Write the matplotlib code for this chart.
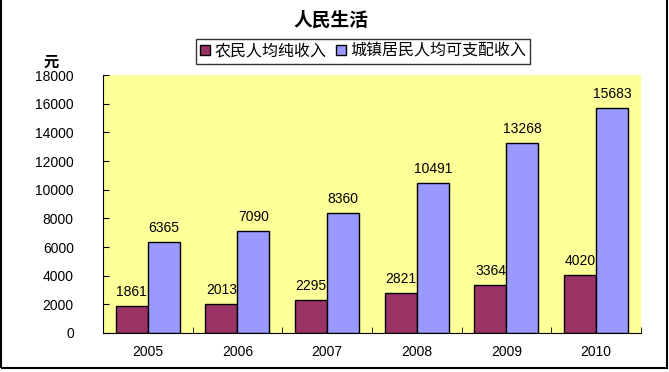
import numpy as np
import matplotlib.pyplot as plt
from matplotlib.patches import Rectangle

plt.rcParams['font.family'] = ['Noto Sans CJK SC', 'DejaVu Sans']

years = ["2005", "2006", "2007", "2008", "2009", "2010"]
rural = [1861, 2013, 2295, 2821, 3364, 4020]
urban = [6365, 7090, 8360, 10491, 13268, 15683]
series_names = ["农民人均纯收入", "城镇居民人均可支配收入"]

fig = plt.figure(figsize=(6.69, 3.72), dpi=100)
ax = fig.add_axes([0.154, 0.105, 0.804, 0.693])
ax.set_facecolor("#FFFF99")

x = np.arange(len(years))
w = 0.357
b1 = ax.bar(x - w / 2, rural, w, color="#993366", edgecolor="black", linewidth=1, label=series_names[0])
b2 = ax.bar(x + w / 2, urban, w, color="#9999FF", edgecolor="black", linewidth=1, label=series_names[1])

for bars, vals in ((b1, rural), (b2, urban)):
    for r, v in zip(bars, vals):
        ax.annotate(str(v), (r.get_x() + r.get_width() / 2, v), xytext=(0, 5),
                    textcoords="offset points", ha="center", va="bottom",
                    fontsize=10, family="Liberation Sans")

ax.set_xlim(-0.5, len(years) - 0.5)
ax.set_ylim(0, 18000)
ax.set_yticks(range(0, 18001, 2000))
ax.set_yticklabels([str(v) for v in range(0, 18001, 2000)], family="Liberation Sans", fontsize=10)
ax.tick_params(axis="y", direction="in", length=4, pad=21)
ax.set_xticks(x)
ax.set_xticklabels(years, family="Liberation Sans", fontsize=10)
ax.set_xticks(np.arange(-0.5, len(years), 1), minor=True)
ax.tick_params(axis="x", which="major", length=0, pad=9)
ax.tick_params(axis="x", which="minor", direction="in", length=4)
for s in ("top", "right"):
    ax.spines[s].set_visible(False)

fig.text(0.495, 0.945, "人民生活", ha="center", va="center", fontsize=13.5, fontweight="bold")
fig.text(0.077, 0.833, "元", ha="center", va="center", fontsize=11, fontweight="bold")

leg = fig.legend(loc="center", bbox_to_anchor=(0.543, 0.862), ncol=2, fontsize=11.5,
                 frameon=True, fancybox=False, edgecolor="black", handlelength=0.6,
                 handleheight=0.6, handletextpad=0.3, columnspacing=0.6, borderpad=0.25)
leg.get_frame().set_linewidth(1)

fig.patches.append(Rectangle((0.002, 0.01), 0.995, 1.2, transform=fig.transFigure,
                             fill=False, edgecolor="black", linewidth=1.5))

fig.savefig("out.png", dpi=100)
